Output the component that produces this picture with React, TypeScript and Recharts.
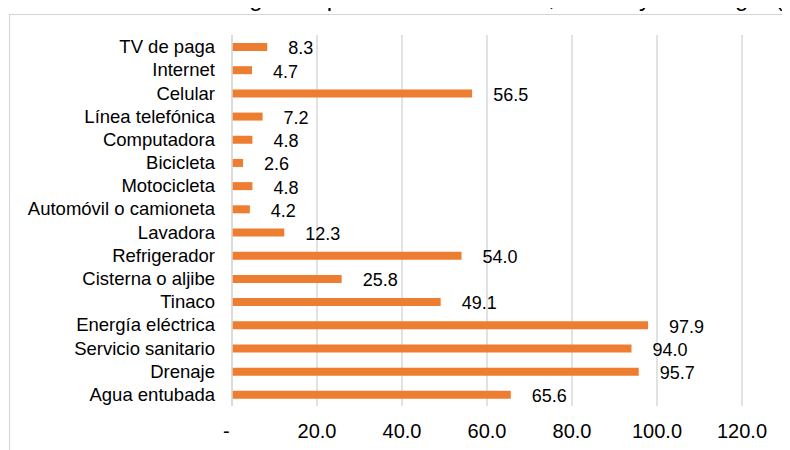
import React from "react";
import { BarChart, Bar, XAxis, YAxis, CartesianGrid, LabelList } from "recharts";

const categories = [
  "TV de paga",
  "Internet",
  "Celular",
  "Línea telefónica",
  "Computadora",
  "Bicicleta",
  "Motocicleta",
  "Automóvil o camioneta",
  "Lavadora",
  "Refrigerador",
  "Cisterna o aljibe",
  "Tinaco",
  "Energía eléctrica",
  "Servicio sanitario",
  "Drenaje",
  "Agua entubada",
];

const values = [8.3, 4.7, 56.5, 7.2, 4.8, 2.6, 4.8, 4.2, 12.3, 54.0, 25.8, 49.1, 97.9, 94.0, 95.7, 65.6];

const xTicks = [0, 20, 40, 60, 80, 100, 120];

const title = "Gráfica 4. Viviendas según disposición de servicios, bienes y tecnología (%)";

const data = categories.map((c, i) => ({ name: c, value: values[i] }));

const FONT = "'Liberation Sans', Arial, Helvetica, sans-serif";

export default function App() {
  return (
    <div
      style={{
        position: "relative",
        width: 790,
        height: 450,
        margin: "-8px 0 0 -8px",
        overflow: "hidden",
        background: "#fff",
        fontFamily: FONT,
      }}
    >
      <svg width={790} height={14} style={{ position: "absolute", left: 0, top: 0 }}>
        <text x={3} y={5.5} fontSize={24} fill="#000" fontFamily={FONT}>
          {title}
        </text>
      </svg>
      <div
        style={{
          position: "absolute",
          left: 8.5,
          top: 13.5,
          width: 900,
          height: 600,
          border: "1.5px solid #d4d4d4",
          boxSizing: "border-box",
        }}
      />
      <div style={{ position: "absolute", left: 0, top: 0 }}>
        <BarChart
          width={790}
          height={450}
          data={data}
          layout="vertical"
          margin={{ top: 35, right: 48, bottom: 14, left: 8 }}
          barCategoryGap={0}
        >
          <CartesianGrid horizontal={false} vertical={true} stroke="#d9d9d9" strokeWidth={1.5} />
          <XAxis
            type="number"
            domain={[0, 120]}
            ticks={xTicks}
            axisLine={false}
            tickLine={false}
            tickSize={0}
            tickMargin={18}
            height={30}
            interval={0}
            tick={{ fontSize: 20, fill: "#000", fontFamily: FONT }}
            tickFormatter={(v: number) => (v === 0 ? "-\u00a0\u00a0" : v.toFixed(1))}
          />
          <YAxis
            type="category"
            dataKey="name"
            width={224}
            axisLine={{ stroke: "#d9d9d9", strokeWidth: 1.5 }}
            tickLine={false}
            tickSize={0}
            tickMargin={17}
            interval={0}
            tick={{ fontSize: 18.5, fill: "#000", fontFamily: FONT }}
          />
          <Bar dataKey="value" fill="#ED7D31" barSize={8} isAnimationActive={false}>
            <LabelList
              dataKey="value"
              position="right"
              offset={21}
              fill="#000"
              fontSize={18}
              fontFamily={FONT}
              dy={1}
              formatter={(v: number) => Number(v).toFixed(1)}
            />
          </Bar>
        </BarChart>
      </div>
    </div>
  );
}
